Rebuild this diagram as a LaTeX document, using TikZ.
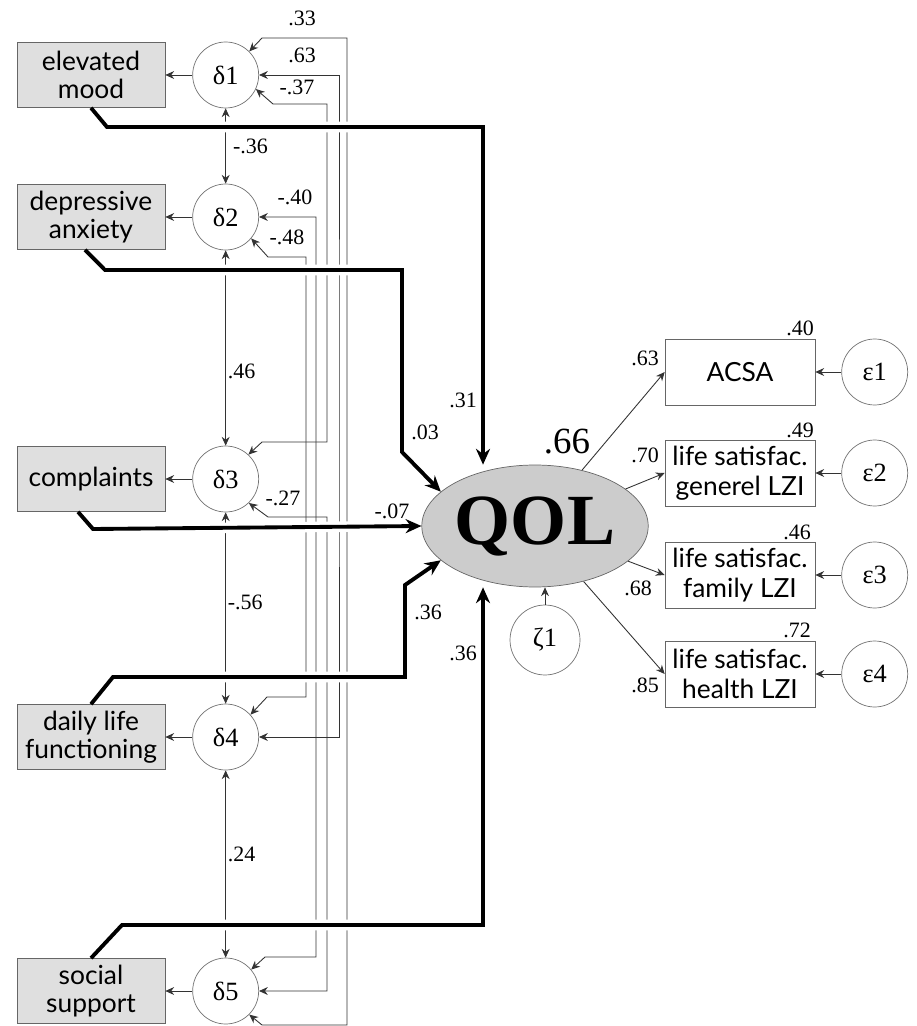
\documentclass[tikz,border=0pt]{standalone}
\usepackage{fontspec}
\setmainfont{Lato}
\newfontfamily\numfont{Liberation Serif}
\usepackage{tikz}
\usetikzlibrary{shapes.geometric, arrows.meta, positioning}
\tikzstyle{obs}    = [rectangle, minimum width=2.96cm, minimum height=1.3cm,
                      draw=black!60, fill=gray!25, align=center, inner sep=1pt,
                      font=\fontsize{15}{16}\selectfont]
\tikzstyle{ind}    = [rectangle, minimum width=3cm, minimum height=1.32cm,
                      draw=black!60, fill=white, align=center, inner sep=1pt,
                      font=\fontsize{15}{17}\selectfont]
\tikzstyle{err}    = [circle, minimum size=1.32cm, draw=black!55, fill=white,
                      inner sep=0pt, font=\numfont\fontsize{15}{15}\selectfont]
\tikzstyle{latent} = [ellipse, minimum width=4.48cm, minimum height=2.44cm,
                      draw=black!60, fill=gray!40, inner sep=0pt,
                      font=\numfont\bfseries\fontsize{41}{41}\selectfont]
\tikzstyle{link}   = [black!80, line width=0.5pt, -{Stealth[length=5pt,width=4.5pt]}]
\tikzstyle{corr}   = [black!80, line width=0.5pt,
                      {Stealth[length=5pt,width=4.5pt]}-{Stealth[length=5pt,width=4.5pt]}]
\tikzstyle{effect} = [line width=2.2pt, -{Stealth[length=9pt,width=8pt]},
                      preaction={draw=white, line width=6pt, -, shorten <=5pt, shorten >=6pt}]
\tikzstyle{lbl}    = [inner sep=1pt, text=black, font=\numfont\fontsize{12.5}{13}\selectfont]

\begin{document}
\begin{tikzpicture}[x=0.02cm, y=-0.02cm]
  \useasboundingbox (0,0) rectangle (916,1026);

  % exogenous indicators and their residuals
  \node[obs] (elev)  at (91,75)  {elevated\\mood};
  \node[obs] (dep)   at (91,217) {depressive\\anxiety};
  \node[obs] (comp)  at (91,479) {complaints};
  \node[obs] (daily) at (91,737) {daily life\\functioning};
  \node[obs] (soc)   at (91,991) {social\\support};
  \node[err, right=0.54cm of elev]  (d1) {δ1};
  \node[err, right=0.54cm of dep]   (d2) {δ2};
  \node[err, right=0.54cm of comp]  (d3) {δ3};
  \node[err, right=0.54cm of daily] (d4) {δ4};
  \node[err, right=0.54cm of soc]   (d5) {δ5};

  % latent outcome
  \node[latent] (qol) at (535,526) {QOL};
  \node[err, minimum size=1.4cm] (z1) at (545,640) {ζ1};

  % outcome indicators
  \node[ind] (acsa) at (740,372) {ACSA};
  \node[ind] (gen)  at (740,473) {life satisfac.\\generel LZI};
  \node[ind] (fam)  at (740,575) {life satisfac.\\family LZI};
  \node[ind] (hlth) at (740,674) {life satisfac.\\health LZI};
  \node[err, right=0.52cm of acsa] (e1) {ε1};
  \node[err, right=0.52cm of gen]  (e2) {ε2};
  \node[err, right=0.52cm of fam]  (e3) {ε3};
  \node[err, right=0.52cm of hlth] (e4) {ε4};

  \draw[link] (d1) -- (elev);
  \draw[link] (d2) -- (dep);
  \draw[link] (d3) -- (comp);
  \draw[link] (d4) -- (daily);
  \draw[link] (d5) -- (soc);

  % residual correlations
  \draw[corr] (d1) -- node[lbl, right, xshift=3pt] {-.36} (d2);
  \draw[corr] (d2) -- node[lbl, right, pos=0.62] {.46} (d3);
  \draw[corr] (d3) -- node[lbl, right, pos=0.47] {-.56} (d4);
  \draw[corr] (d4) -- node[lbl, right, pos=0.45] {.24} (d5);
  \draw[corr] (d1.45) -- (262,38) -- (347,38) -- (347,1025) -- (262,1025) -- (d5.-45);
  \draw[corr] (d1.east) -| (339,400) |- (d4.east);
  \draw[corr] (d1.-25) -- (273,104) -- (327,104) -- (327,442) -- (262,442) -- (d3.47);
  \draw[corr] (d2.east) -| (316,600) |- (265,957) -- (d5.40);
  \draw[corr] (d2.-40) -- (268,257) -- (306,257) -- (306,697) -- (267,697) -- (d4.42);
  \draw[corr] (d3.-46) -- (268,517) -- (327,517) |- (d5.east);
  \node[lbl] at (302,18)  {.33};
  \node[lbl] at (302,55)  {.63};
  \node[lbl] at (297,87)  {-.37};
  \node[lbl] at (295,197) {-.40};
  \node[lbl] at (287,237) {-.48};
  \node[lbl] at (283,498) {-.27};

  % structural paths
  \draw[effect] (elev.south) -- (107,127) -| ([xshift=-1.04cm]qol.north);
  \draw[effect] ([xshift=-0.12cm]dep.south) -- (105,270) -- (402,270) -- (402,452) -- (qol.160);
  \draw[effect] ([xshift=-0.26cm]comp.south) -- (93,529) -- (qol.west);
  \draw[effect] (daily.north) -- (113,677) -- (405,677) -- (405,585) -- (qol.200);
  \draw[effect] (soc.north) -- (122,925) -| ([xshift=-1.04cm]qol.south);
  \node[lbl] at (463,400) {.31};
  \node[lbl] at (425,432) {.03};
  \node[lbl] at (392,511) {-.07};
  \node[lbl] at (428,612) {.36};
  \node[lbl] at (463,653) {.36};
  \node[lbl, font=\numfont\fontsize{21}{21}\selectfont] at (567,442) {.66};

  \draw[link] (z1) -- (qol.south -| z1);

  % measurement part
  \draw[link] (qol) -- (acsa.west);
  \draw[link] (qol) -- (gen.west);
  \draw[link] (qol) -- (fam.west);
  \draw[link] (qol) -- (hlth.west);
  \draw[link] (e1) -- (acsa);
  \draw[link] (e2) -- (gen);
  \draw[link] (e3) -- (fam);
  \draw[link] (e4) -- (hlth);
  \node[lbl] at (645,358) {.63};
  \node[lbl] at (645,455) {.70};
  \node[lbl] at (638,588) {.68};
  \node[lbl] at (645,685) {.85};
  \node[lbl] at (800,328) {.40};
  \node[lbl] at (800,430) {.49};
  \node[lbl] at (797,532) {.46};
  \node[lbl] at (797,630) {.72};
\end{tikzpicture}
\end{document}
